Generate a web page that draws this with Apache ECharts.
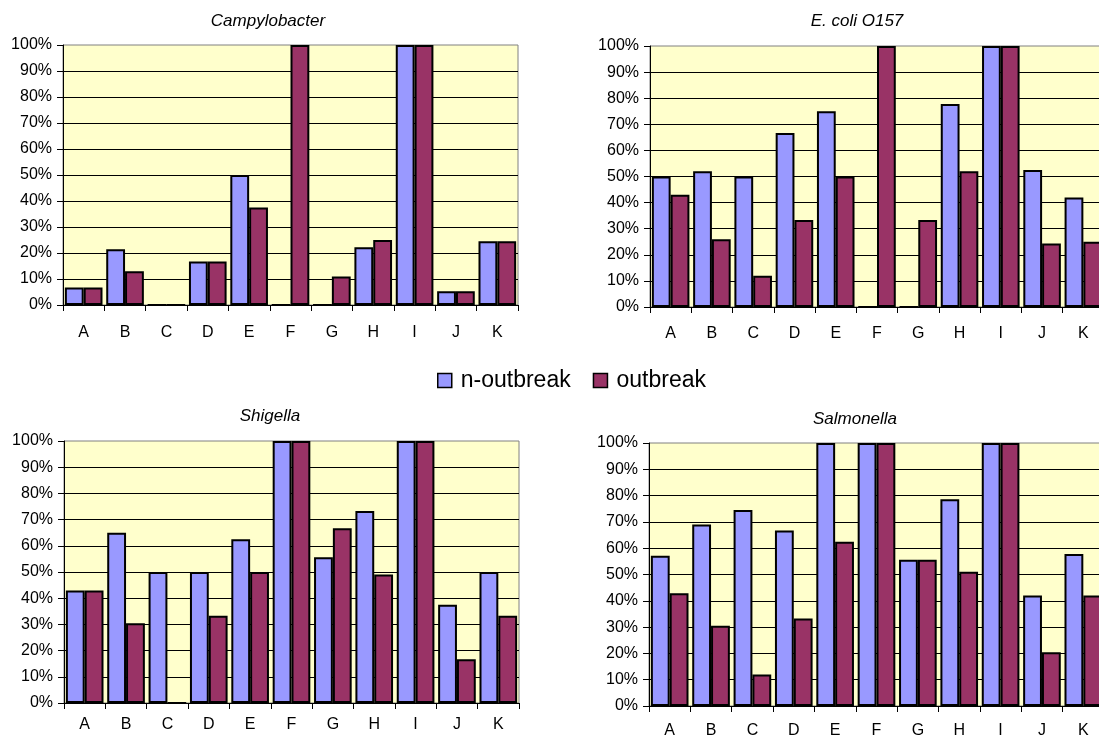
<!DOCTYPE html>
<html>
<head>
<meta charset="utf-8">
<script src="https://cdn.jsdelivr.net/npm/echarts@6/dist/echarts.min.js"></script>
<style>
  html, body { margin: 0; padding: 0; background: #fff; }
  #chart { width: 1099px; height: 738px; }
</style>
</head>
<body>
<div id="chart"></div>
<script>
// categories shared by all four panels
const categories = ['A', 'B', 'C', 'D', 'E', 'F', 'G', 'H', 'I', 'J', 'K']
const yTicks = [0, 0.1, 0.2, 0.3, 0.4, 0.5, 0.6, 0.7, 0.8, 0.9, 1]

// panel titles
const panelTitles = ['Campylobacter', 'E. coli O157', 'Shigella', 'Salmonella']
const seriesNames = ['n-outbreak', 'outbreak']

// values (share, 0..1)
const campyNon = [0.067, 0.214, 0, 0.167, 0.5, 0, 0, 0.222, 1, 0.053, 0.245]
const campyOut = [0.067, 0.13, 0, 0.167, 0.375, 1, 0.11, 0.25, 1, 0.053, 0.245]

const ecoliNon = [0.5, 0.52, 0.5, 0.667, 0.75, 0, 0, 0.778, 1, 0.525, 0.42]
const ecoliOut = [0.43, 0.26, 0.12, 0.333, 0.5, 1, 0.333, 0.52, 1, 0.243, 0.25]

const shigNon = [0.429, 0.65, 0.5, 0.5, 0.625, 1, 0.556, 0.733, 1, 0.375, 0.5]
const shigOut = [0.429, 0.304, 0, 0.333, 0.5, 1, 0.667, 0.49, 1, 0.167, 0.333]

const salmNon = [0.571, 0.69, 0.745, 0.667, 1, 1, 0.556, 0.786, 1, 0.42, 0.578]
const salmOut = [0.429, 0.305, 0.12, 0.333, 0.625, 1, 0.556, 0.51, 1, 0.204, 0.42]

const panelData = [
  [campyNon, campyOut],
  [ecoliNon, ecoliOut],
  [shigNon, shigOut],
  [salmNon, salmOut]
]

const font = "'Liberation Sans', Arial, sans-serif"
const blue = '#9999FF'
const plum = '#993366'

// plot rectangles and label offsets per panel
const grids = [
  { left: 63, top: 45, width: 455, height: 260 },
  { left: 650, top: 46, width: 454, height: 261 },
  { left: 64, top: 441, width: 455, height: 262 },
  { left: 649, top: 443, width: 455, height: 263 }
]
const xLabelMargin = [20, 19, 14, 17]
const titlePos = [[268, 13], [857, 13], [270, 408], [855, 411]]

const chart = echarts.init(document.getElementById('chart'))

const option = {
  animation: false,
  textStyle: { fontFamily: font },
  title: panelTitles.map((t, i) => ({
    text: t,
    left: titlePos[i][0],
    top: titlePos[i][1],
    textAlign: 'center',
    padding: 0,
    textStyle: { fontFamily: font, fontStyle: 'italic', fontWeight: 'normal', fontSize: 17, color: '#000' }
  })),
  legend: {
    data: seriesNames,
    left: 437,
    top: 369,
    padding: 0,
    icon: 'rect',
    itemWidth: 14,
    itemHeight: 14,
    itemGap: 22,
    itemStyle: { borderColor: '#000', borderWidth: 1.5 },
    textStyle: { fontFamily: font, fontSize: 23, color: '#000', padding: [0, 0, 0, 4] }
  },
  grid: grids.map(g => ({
    ...g,
    outerBoundsMode: 'none',
    containLabel: false,
    show: true,
    backgroundColor: '#FFFFCC',
    borderColor: '#808080',
    borderWidth: 1
  })),
  xAxis: grids.map((g, i) => ({
    type: 'category',
    gridIndex: i,
    data: categories,
    axisLine: { lineStyle: { color: '#000', width: 1 } },
    axisTick: { show: true, length: 6, lineStyle: { color: '#000' } },
    axisLabel: { margin: xLabelMargin[i], fontSize: 16, color: '#000', fontFamily: font }
  })),
  yAxis: grids.map((g, i) => ({
    type: 'value',
    gridIndex: i,
    min: yTicks[0],
    max: yTicks[yTicks.length - 1],
    interval: 0.1,
    axisLine: { show: true, lineStyle: { color: '#000', width: 1 } },
    axisTick: { show: true, length: 6, lineStyle: { color: '#000' } },
    splitLine: { show: true, showMaxLine: false, lineStyle: { color: '#000', width: 1 } },
    axisLabel: {
      margin: 11,
      fontSize: 16,
      color: '#000',
      fontFamily: font,
      formatter: v => Math.round(v * 100) + '%'
    }
  })),
  series: []
}

panelData.forEach((pair, i) => {
  pair.forEach((vals, j) => {
    option.series.push({
      name: seriesNames[j],
      type: 'bar',
      xAxisIndex: i,
      yAxisIndex: i,
      data: vals,
      barGap: '0%',
      barCategoryGap: '9%',
      itemStyle: { color: j === 0 ? blue : plum, borderColor: '#000', borderWidth: 2 }
    })
  })
})

chart.setOption(option)
</script>
</body>
</html>
